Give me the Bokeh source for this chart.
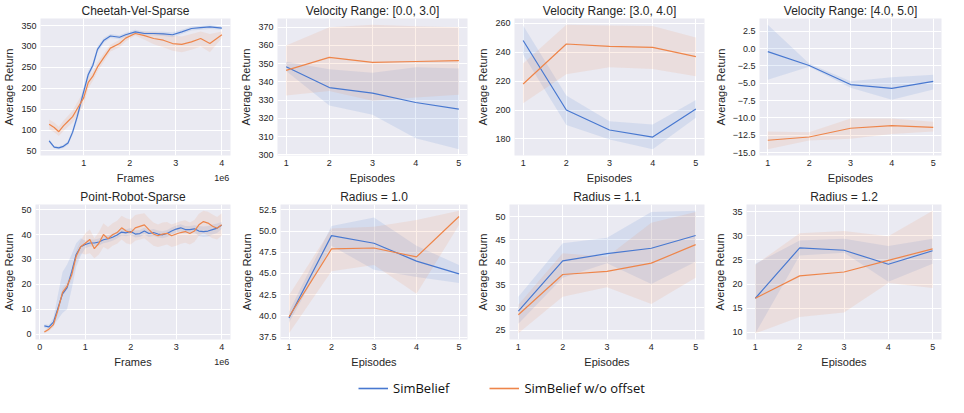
from bokeh.plotting import figure
from bokeh.layouts import column, row
from bokeh.models import (Range1d, FixedTicker, Legend, LegendItem, LinearAxis,
                          PrintfTickFormatter)
from bokeh.embed import file_html
from bokeh.resources import INLINE

BLUE = "#4878d0"
ORANGE = "#ee854a"
BG = "#eaeaf2"
TXT = "#262626"
FONT = "Liberation Sans"

SERIES = ["SimBelief", "SimBelief w/o offset"]

# ---------------- data ----------------
episodes = [1, 2, 3, 4, 5]

# Cheetah-Vel-Sparse (frames in units of 1e6)
cheetah_frames = [0.25, 0.36, 0.46, 0.56, 0.66, 0.76, 0.86, 1.0, 1.1, 1.2, 1.3, 1.44, 1.58,
                  1.78, 1.91, 2.12, 2.32, 2.52, 2.73, 2.93, 3.13, 3.34, 3.54, 3.74, 4.0]
cheetah_blue = [74, 59, 57.5, 61, 69, 95, 132, 192, 233, 255, 293, 315, 325,
                322, 328, 335, 331, 331, 330, 328, 335, 343, 345, 347, 344]
cheetah_blue_lo = [70, 56, 54, 57, 64, 88, 122, 180, 224, 248, 286, 309, 320,
                   317, 323, 330, 326, 326, 325, 322, 330, 338, 340, 342, 340]
cheetah_blue_hi = [78, 62, 61, 65, 74, 102, 142, 204, 242, 262, 300, 321, 330,
                   327, 333, 340, 336, 336, 335, 334, 340, 348, 350, 352, 348]
cheetah_orange = [114, 106, 96, 110, 121, 132, 151, 177, 214, 229, 251, 274, 296,
                  307, 320, 331, 326, 319, 315, 307, 305, 311, 319, 307, 328]
cheetah_orange_lo = [102, 95, 86, 98, 108, 118, 135, 160, 200, 218, 240, 264, 288,
                     298, 312, 326, 316, 305, 298, 290, 286, 292, 300, 286, 320]
cheetah_orange_hi = [125, 118, 108, 122, 134, 146, 166, 192, 226, 240, 262, 284, 304,
                     316, 328, 336, 336, 334, 332, 326, 324, 330, 336, 330, 336]

# Point-Robot-Sparse (frames in units of 1e6)
robot_frames = [0.1, 0.2, 0.3, 0.4, 0.5, 0.6, 0.7, 0.8, 0.9, 1.0, 1.1, 1.2, 1.3, 1.4, 1.5, 1.6,
                1.7, 1.8, 1.9, 2.0, 2.1, 2.2, 2.3, 2.4, 2.5, 2.6, 2.7, 2.8, 2.9, 3.0, 3.1, 3.2,
                3.3, 3.4, 3.5, 3.6, 3.7, 3.8, 3.9, 4.0]
robot_blue = [3.3, 2.9, 4.8, 10.5, 16.2, 18.7, 25, 32, 35.1, 36, 36.6, 36.6, 37, 37.9, 38.3, 38.9,
              39.8, 41, 40.7, 41.2, 40.2, 40.4, 41.4, 40.4, 40.8, 40.2, 39.9, 40.4, 41.4, 42.2, 42.7, 42,
              42, 42.3, 41.4, 41.2, 41.4, 42, 42.6, 43.7]
robot_blue_lo = [2.5, 2.2, 3.5, 6, 8.5, 10, 18, 27, 31.5, 34.5, 35.2, 35.2, 35.6, 36.5, 36.9, 37.5,
                 38.4, 39.6, 39.3, 39.8, 38.8, 39, 40, 39, 39.4, 38.8, 38.5, 39, 40, 40.8, 41.3, 40.6,
                 40.6, 40.9, 39.4, 39, 39.2, 40, 40.6, 42.2]
robot_blue_hi = [4, 3.8, 6.5, 16, 25, 28, 32, 36.5, 38.5, 37.5, 38, 38, 38.4, 39.3, 39.7, 40.3,
                 41.2, 42.4, 42.1, 42.6, 41.6, 41.8, 42.8, 41.8, 42.2, 41.6, 41.3, 41.8, 42.8, 43.6, 44.1, 43.4,
                 43.4, 43.7, 43.4, 43.2, 43.4, 44, 44.4, 45]
robot_orange = [0.8, 2, 3.8, 9.8, 16.8, 19.3, 23.7, 31.3, 35.1, 36.5, 38, 34.3, 36.5, 40, 38.3, 39.9,
                40.8, 42.7, 41.4, 40.8, 42.7, 43.3, 43.9, 42, 40.2, 39.5, 40.2, 40.5, 39.5, 40.2, 40.8, 41.2,
                40.4, 41.4, 43.9, 45.2, 44.6, 43.3, 42.5, 43.9]
robot_orange_lo = [0.3, 1.2, 2.8, 8.5, 15.2, 17.8, 21.8, 29, 32.5, 32, 32.5, 30.5, 32, 35, 34, 35.5,
                   36.3, 38, 36.5, 36, 37.5, 38, 38.5, 37, 35.5, 35, 35.5, 36, 35, 35.5, 36.3, 36.7,
                   36, 37, 39.5, 40.5, 39.5, 38.5, 38, 39.5]
robot_orange_hi = [1.3, 2.8, 4.8, 11, 18.4, 20.8, 25.6, 33.6, 37.7, 40.5, 42, 38.5, 41, 44.5, 43, 44.5,
                   45.5, 47.5, 46.5, 46, 47.8, 48.2, 48.5, 46.5, 44.8, 44, 44.8, 45, 44, 44.7, 45.3, 45.7,
                   44.8, 45.8, 48.3, 49.6, 49.2, 48, 47, 48.5]

# Velocity Range: [0.0, 3.0]
v03_blue = [348.3, 336.9, 333.8, 328.7, 325.1]
v03_blue_lo = [346.0, 327.0, 322.0, 309.0, 303.0]
v03_blue_hi = [351.0, 347.0, 345.0, 348.0, 347.4]
v03_orange = [346.3, 353.5, 350.7, 351.2, 351.7]
v03_orange_lo = [332.6, 335.0, 329.6, 331.4, 333.0]
v03_orange_hi = [360.0, 370.0, 371.4, 370.5, 370.0]

# Velocity Range: [3.0, 4.0]
v34_blue = [248.0, 200.0, 186.2, 181.3, 200.7]
v34_blue_lo = [238.4, 189.6, 179.6, 172.9, 194.7]
v34_blue_hi = [258.4, 210.0, 192.2, 190.0, 206.9]
v34_orange = [218.0, 245.6, 244.0, 243.3, 236.9]
v34_orange_lo = [204.7, 224.7, 229.6, 228.4, 223.3]
v34_orange_hi = [232.2, 258.9, 258.4, 258.0, 250.0]

# Velocity Range: [4.0, 5.0]
v45_blue = [-0.44, -2.45, -5.2, -5.76, -4.73]
v45_blue_lo = [-4.5, -2.63, -5.67, -7.4, -5.9]
v45_blue_hi = [3.43, -2.17, -4.73, -4.13, -3.8]
v45_orange = [-13.23, -12.76, -11.5, -11.13, -11.36]
v45_orange_lo = [-14.53, -13.27, -13.0, -12.34, -11.97]
v45_orange_hi = [-11.97, -12.06, -10.1, -10.1, -10.57]

# Radius = 1.0
r10_blue = [39.75, 49.46, 48.56, 46.46, 44.96]
r10_blue_lo = [39.2, 48.26, 45.45, 44.6, 43.87]
r10_blue_hi = [40.5, 50.6, 51.6, 48.26, 46.0]
r10_orange = [39.9, 47.89, 48.0, 46.95, 51.71]
r10_orange_lo = [37.95, 45.26, 46.0, 42.6, 50.7]
r10_orange_hi = [42.45, 50.3, 50.5, 51.3, 52.4]

# Radius = 1.1
r11_blue = [29.2, 40.3, 41.9, 43.1, 45.9]
r11_blue_lo = [26.4, 36.6, 39.8, 35.2, 40.1]
r11_blue_hi = [32.4, 44.2, 45.4, 51.1, 51.4]
r11_orange = [28.4, 37.3, 38.0, 39.8, 43.9]
r11_orange_lo = [24.3, 32.4, 34.5, 30.8, 36.6]
r11_orange_hi = [30.6, 42.0, 41.2, 48.7, 51.1]

# Radius = 1.2
r12_blue = [17.07, 27.5, 27.0, 24.1, 26.9]
r12_blue_lo = [9.8, 25.9, 26.5, 20.5, 24.2]
r12_blue_hi = [24.2, 29.0, 29.4, 27.9, 29.4]
r12_orange = [17.07, 21.7, 22.5, 24.9, 27.3]
r12_orange_lo = [9.8, 13.2, 14.1, 20.2, 19.2]
r12_orange_hi = [24.0, 30.5, 31.0, 29.9, 35.2]

# tick values / labels
frames_ticks_1 = [1, 2, 3, 4]
frames_ticks_2 = [0, 1, 2, 3, 4]
frames_offset_tick = [4]
frames_offset_text = ["1e6"]
ep_ticks = [1, 2, 3, 4, 5]
cheetah_yticks = [50, 100, 150, 200, 250, 300, 350]
robot_yticks = [0, 10, 20, 30, 40, 50]
v03_yticks = [300, 310, 320, 330, 340, 350, 360, 370]
v34_yticks = [180, 200, 220, 240, 260]
v45_yticks = [2.5, 0, -2.5, -5, -7.5, -10, -12.5, -15]
v45_ylabels = ["2.5", "0.0", "\u22122.5", "\u22125.0", "\u22127.5", "\u221210.0", "\u221212.5", "\u221215.0"]
r10_yticks = [37.5, 40, 42.5, 45, 47.5, 50, 52.5]
r11_yticks = [25, 30, 35, 40, 45, 50]
r12_yticks = [10, 15, 20, 25, 30, 35]

W = 237
H1 = 186
H2 = 184
HL = 27


def padded(vals):
    lo, hi = min(vals), max(vals)
    d = (hi - lo) * 0.05
    return Range1d(lo - d, hi + d)


def style_axis(ax):
    ax.axis_line_color = None
    ax.major_tick_line_color = None
    ax.minor_tick_line_color = None
    ax.major_tick_out = 0
    ax.major_tick_in = 0
    ax.minor_tick_out = 0
    ax.minor_tick_in = 0
    ax.major_label_text_font = FONT
    ax.major_label_text_font_size = "9px"
    ax.major_label_text_color = TXT
    ax.major_label_standoff = 4
    ax.axis_label_text_font = FONT
    ax.axis_label_text_font_size = "11px"
    ax.axis_label_text_font_style = "normal"
    ax.axis_label_text_color = TXT
    ax.axis_label_standoff = 3


def panel(title, xlabel, x, b, blo, bhi, o, olo, ohi, xticks, yticks, height,
          ylabels=None, yfmt=None, offset=False):
    yr = padded(blo + bhi + olo + ohi + b + o)
    p = figure(width=W, height=height, toolbar_location=None, output_backend="svg",
               x_range=padded(x), y_range=yr,
               title=title, min_border_left=4, min_border_right=7, min_border_top=0,
               min_border_bottom=0)
    p.background_fill_color = BG
    p.border_fill_color = "white"
    p.outline_line_color = None
    p.title.align = "center"
    p.title.text_font = FONT
    p.title.text_font_size = "12px"
    p.title.text_font_style = "normal"
    p.title.text_color = TXT
    p.title.standoff = 2
    p.grid.grid_line_color = "white"
    p.grid.grid_line_width = 1
    for ax in p.axis:
        style_axis(ax)
    p.xaxis.axis_label = xlabel
    p.yaxis.axis_label = "Average Return"
    p.xaxis.ticker = FixedTicker(ticks=xticks)
    p.yaxis.ticker = FixedTicker(ticks=yticks)
    p.xgrid.ticker = FixedTicker(ticks=xticks)
    p.ygrid.ticker = FixedTicker(ticks=yticks)
    if ylabels is not None:
        p.yaxis.major_label_overrides = {float(t): s for t, s in zip(yticks, ylabels)}
    if yfmt is not None:
        p.yaxis.formatter = PrintfTickFormatter(format=yfmt)

    p.varea(x=x, y1=blo, y2=bhi, fill_color=BLUE, fill_alpha=0.13)
    p.varea(x=x, y1=olo, y2=ohi, fill_color=ORANGE, fill_alpha=0.12)
    p.line(x, b, line_color=BLUE, line_width=1.2)
    p.line(x, o, line_color=ORANGE, line_width=1.2)

    if offset:
        # offset text ("1e6") as a one-tick axis pulled up beside the axis label
        ax2 = LinearAxis(ticker=FixedTicker(ticks=frames_offset_tick))
        style_axis(ax2)
        ax2.major_label_overrides = {float(t): s for t, s in
                                     zip(frames_offset_tick, frames_offset_text)}
        ax2.major_label_standoff = -12
        p.add_layout(ax2, "below")
    return p


p1 = panel("Cheetah-Vel-Sparse", "Frames", cheetah_frames, cheetah_blue, cheetah_blue_lo,
           cheetah_blue_hi, cheetah_orange, cheetah_orange_lo, cheetah_orange_hi,
           frames_ticks_1, cheetah_yticks, H1, offset=True)
p2 = panel("Velocity Range: [0.0, 3.0]", "Episodes", episodes, v03_blue, v03_blue_lo, v03_blue_hi,
           v03_orange, v03_orange_lo, v03_orange_hi, ep_ticks, v03_yticks, H1)
p3 = panel("Velocity Range: [3.0, 4.0]", "Episodes", episodes, v34_blue, v34_blue_lo, v34_blue_hi,
           v34_orange, v34_orange_lo, v34_orange_hi, ep_ticks, v34_yticks, H1)
p4 = panel("Velocity Range: [4.0, 5.0]", "Episodes", episodes, v45_blue, v45_blue_lo, v45_blue_hi,
           v45_orange, v45_orange_lo, v45_orange_hi, ep_ticks, v45_yticks, H1, ylabels=v45_ylabels)
p5 = panel("Point-Robot-Sparse", "Frames", robot_frames, robot_blue, robot_blue_lo, robot_blue_hi,
           robot_orange, robot_orange_lo, robot_orange_hi, frames_ticks_2, robot_yticks, H2,
           offset=True)
p6 = panel("Radius = 1.0", "Episodes", episodes, r10_blue, r10_blue_lo, r10_blue_hi,
           r10_orange, r10_orange_lo, r10_orange_hi, ep_ticks, r10_yticks, H2, yfmt="%.1f")
p7 = panel("Radius = 1.1", "Episodes", episodes, r11_blue, r11_blue_lo, r11_blue_hi,
           r11_orange, r11_orange_lo, r11_orange_hi, ep_ticks, r11_yticks, H2)
p8 = panel("Radius = 1.2", "Episodes", episodes, r12_blue, r12_blue_lo, r12_blue_hi,
           r12_orange, r12_orange_lo, r12_orange_hi, ep_ticks, r12_yticks, H2)

# legend strip (its line renderers hold no visible data; they only supply legend glyphs)
lg = figure(width=4 * W, height=HL, toolbar_location=None, output_backend="svg",
            x_range=Range1d(0, 1), y_range=Range1d(0, 1), x_axis_location=None,
            y_axis_location=None, min_border=0)
lg.grid.visible = False
lg.outline_line_color = None
lg.background_fill_color = "white"
lg.border_fill_color = "white"
rb = lg.line(x=[float("nan")], y=[float("nan")], line_color=BLUE, line_width=1.6)
ro = lg.line(x=[float("nan")], y=[float("nan")], line_color=ORANGE, line_width=1.6)
legend = Legend(items=[LegendItem(label=SERIES[0], renderers=[rb]),
                       LegendItem(label=SERIES[1], renderers=[ro])],
                orientation="horizontal", location=(358, 0), glyph_width=30, glyph_height=14,
                label_text_font="Open Sans", label_text_font_size="13px", label_text_color="#111111",
                label_standoff=5, spacing=40, padding=0, margin=0,
                border_line_color=None, background_fill_alpha=0)
lg.add_layout(legend, "center")

layout = column(row(p1, p2, p3, p4), row(p5, p6, p7, p8), lg)
open("out.html", "w").write(file_html(layout, INLINE))
